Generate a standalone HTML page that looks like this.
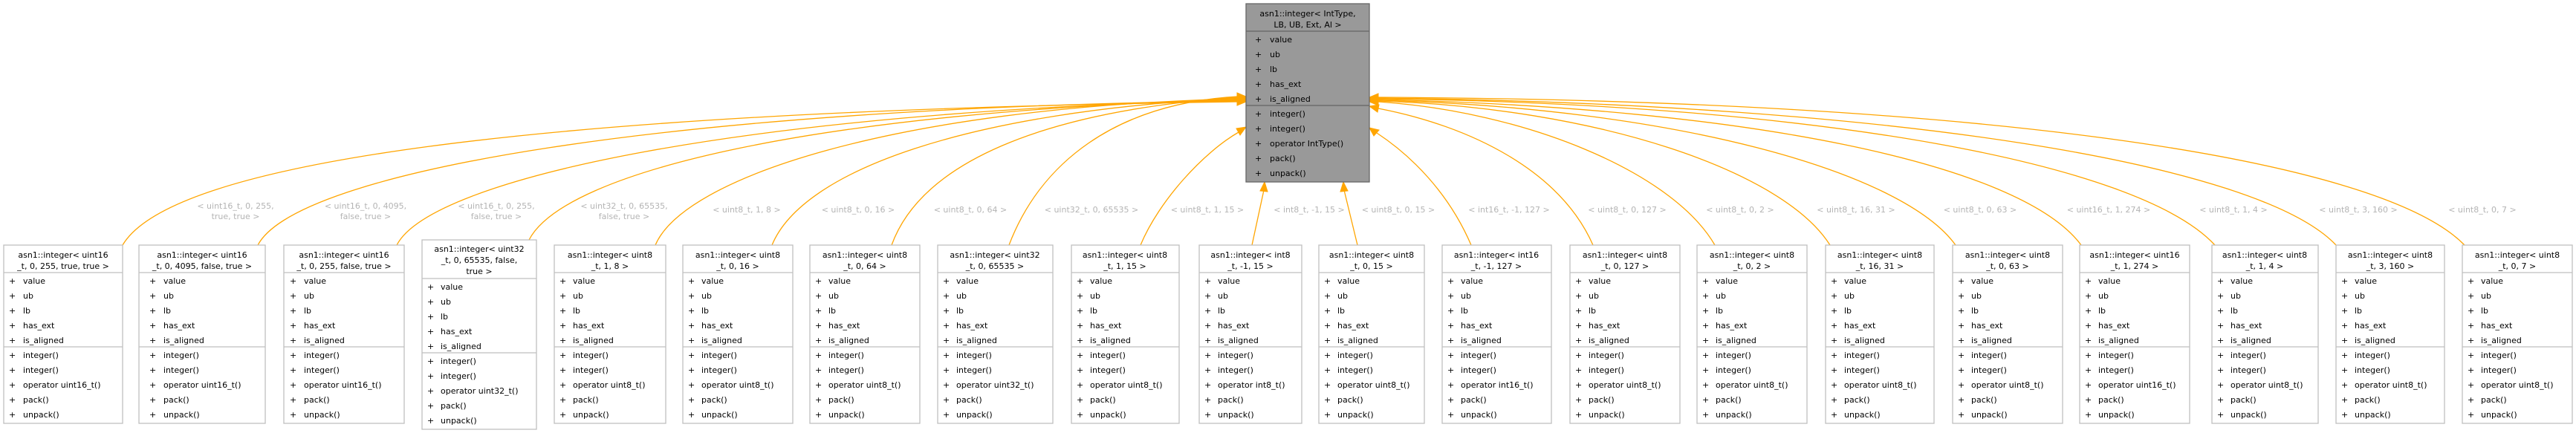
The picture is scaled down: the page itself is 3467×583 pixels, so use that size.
<!DOCTYPE html>
<html><head><meta charset="utf-8"><style>
html,body{margin:0;padding:0;background:#fff;}
svg{display:block;}
text{font-family:"DejaVu Sans","Liberation Sans",sans-serif;font-size:11px;fill:#000;}
.h{text-anchor:middle;}
.lb{fill:#b4b4b4;text-anchor:middle;}
.n rect{fill:#fff;stroke:#bfbfbf;stroke-width:1.3;}
.n line{stroke:#bfbfbf;stroke-width:1.3;}
.e{fill:none;stroke:#ffa500;stroke-width:1.3;}
.a{fill:#ffa500;stroke:#ffa500;}
</style></head><body>
<svg width="3467" height="583" viewBox="0 0 3467 583" xmlns="http://www.w3.org/2000/svg">
<!-- edges -->
<path class="e" d="M165,330 C230,220 700,150 1665,137"/>
<path class="e" d="M347,330 C400,230 900,145 1665,136"/>
<path class="e" d="M534,330 C580,240 1000,150 1665,135"/>
<path class="e" d="M712,323 C760,230 1100,150 1665,134"/>
<path class="e" d="M882,330 C920,240 1200,145 1665,133"/>
<path class="e" d="M1039,330 C1080,230 1300,150 1665,132"/>
<path class="e" d="M1200,330 C1240,220 1400,150 1665,131"/>
<path class="e" d="M1358,330 C1400,220 1500,140 1665,130"/>
<path class="e" d="M1535,330 C1560,270 1620,205 1667,178"/>
<path class="e" d="M1685,330 L1701,256"/>
<path class="e" d="M1827,330 L1809,256"/>
<path class="e" d="M1980,330 C1950,260 1900,210 1853,179"/>
<path class="e" d="M2144,330 C2100,230 1980,170 1855,146"/>
<path class="e" d="M2308,330 C2250,230 2050,150 1855,137"/>
<path class="e" d="M2463,330 C2400,230 2150,145 1855,136"/>
<path class="e" d="M2632,330 C2560,230 2250,145 1855,135"/>
<path class="e" d="M2801,330 C2720,220 2350,145 1855,134"/>
<path class="e" d="M2981,330 C2880,220 2450,140 1855,133"/>
<path class="e" d="M3144,330 C3040,220 2550,140 1855,132"/>
<path class="e" d="M3317,330 C3200,210 2650,135 1855,131"/>
<!-- arrowheads -->
<polygon class="a" points="1665,132 1677,137 1665,142"/>
<polygon class="a" points="1665,131 1677,136 1665,141"/>
<polygon class="a" points="1665,130 1677,135 1665,140"/>
<polygon class="a" points="1665,129 1677,134 1665,139"/>
<polygon class="a" points="1665,128 1677,133 1665,138"/>
<polygon class="a" points="1665,127 1677,132 1665,137"/>
<polygon class="a" points="1665,126 1677,131 1665,136"/>
<polygon class="a" points="1665,125 1677,130 1665,135"/>
<polygon class="a" points="1664,173 1677,171 1669,182"/>
<polygon class="a" points="1696,257 1702,245 1706,258"/>
<polygon class="a" points="1804,258 1808,245 1814,257"/>
<polygon class="a" points="1849,183 1843,172 1856,175"/>
<polygon class="a" points="1856,141 1843,143 1854,151"/>
<polygon class="a" points="1855,132 1843,137 1855,142"/>
<polygon class="a" points="1855,131 1843,136 1855,141"/>
<polygon class="a" points="1855,130 1843,135 1855,140"/>
<polygon class="a" points="1855,129 1843,134 1855,139"/>
<polygon class="a" points="1855,128 1843,133 1855,138"/>
<polygon class="a" points="1855,127 1843,132 1855,137"/>
<polygon class="a" points="1855,126 1843,131 1855,136"/>
<!-- edge labels -->
<text class="lb" x="317" y="281">&lt; uint16_t, 0, 255,</text><text class="lb" x="317" y="295">true, true &gt;</text>
<text class="lb" x="492" y="281">&lt; uint16_t, 0, 4095,</text><text class="lb" x="492" y="295">false, true &gt;</text>
<text class="lb" x="668" y="281">&lt; uint16_t, 0, 255,</text><text class="lb" x="668" y="295">false, true &gt;</text>
<text class="lb" x="840" y="281">&lt; uint32_t, 0, 65535,</text><text class="lb" x="840" y="295">false, true &gt;</text>
<text class="lb" x="1005" y="286">&lt; uint8_t, 1, 8 &gt;</text>
<text class="lb" x="1155" y="286">&lt; uint8_t, 0, 16 &gt;</text>
<text class="lb" x="1306" y="286">&lt; uint8_t, 0, 64 &gt;</text>
<text class="lb" x="1469" y="286">&lt; uint32_t, 0, 65535 &gt;</text>
<text class="lb" x="1625" y="286">&lt; uint8_t, 1, 15 &gt;</text>
<text class="lb" x="1762" y="286">&lt; int8_t, -1, 15 &gt;</text>
<text class="lb" x="1882" y="286">&lt; uint8_t, 0, 15 &gt;</text>
<text class="lb" x="2031" y="286">&lt; int16_t, -1, 127 &gt;</text>
<text class="lb" x="2190" y="286">&lt; uint8_t, 0, 127 &gt;</text>
<text class="lb" x="2342" y="286">&lt; uint8_t, 0, 2 &gt;</text>
<text class="lb" x="2498" y="286">&lt; uint8_t, 16, 31 &gt;</text>
<text class="lb" x="2665" y="286">&lt; uint8_t, 0, 63 &gt;</text>
<text class="lb" x="2838" y="286">&lt; uint16_t, 1, 274 &gt;</text>
<text class="lb" x="3006" y="286">&lt; uint8_t, 1, 4 &gt;</text>
<text class="lb" x="3174" y="286">&lt; uint8_t, 3, 160 &gt;</text>
<text class="lb" x="3341" y="286">&lt; uint8_t, 0, 7 &gt;</text>

<!-- parent -->
<g transform="translate(1677,5)">
<rect x="0" y="0" width="166" height="240" fill="#999999" stroke="#666666" stroke-width="1.3"/>
<line x1="0" y1="37" x2="166" y2="37" stroke="#666666" stroke-width="1.3"/>
<line x1="0" y1="137" x2="166" y2="137" stroke="#666666" stroke-width="1.3"/>
<text class="h" x="83" y="17">asn1::integer&lt; IntType,</text><text class="h" x="83" y="32">LB, UB, Ext, Al &gt;</text>
<text x="12" y="52">+</text><text x="32" y="52">value</text>
<text x="12" y="72">+</text><text x="32" y="72">ub</text>
<text x="12" y="92">+</text><text x="32" y="92">lb</text>
<text x="12" y="112">+</text><text x="32" y="112">has_ext</text>
<text x="12" y="132">+</text><text x="32" y="132">is_aligned</text>
<text x="12" y="152">+</text><text x="32" y="152">integer()</text>
<text x="12" y="172">+</text><text x="32" y="172">integer()</text>
<text x="12" y="192">+</text><text x="32" y="192">operator IntType()</text>
<text x="12" y="212">+</text><text x="32" y="212">pack()</text>
<text x="12" y="232">+</text><text x="32" y="232">unpack()</text>
</g>

<!-- children -->
<g class="n" transform="translate(5,330)"><rect width="160" height="240"/><line x1="0" y1="37" x2="160" y2="37"/><line x1="0" y1="137" x2="160" y2="137"/>
<text class="h" x="80" y="17">asn1::integer&lt; uint16</text><text class="h" x="80" y="32">_t, 0, 255, true, true &gt;</text>
<text x="7" y="52">+</text><text x="26" y="52">value</text><text x="7" y="72">+</text><text x="26" y="72">ub</text><text x="7" y="92">+</text><text x="26" y="92">lb</text><text x="7" y="112">+</text><text x="26" y="112">has_ext</text><text x="7" y="132">+</text><text x="26" y="132">is_aligned</text>
<text x="7" y="152">+</text><text x="26" y="152">integer()</text><text x="7" y="172">+</text><text x="26" y="172">integer()</text><text x="7" y="192">+</text><text x="26" y="192">operator uint16_t()</text><text x="7" y="212">+</text><text x="26" y="212">pack()</text><text x="7" y="232">+</text><text x="26" y="232">unpack()</text></g>

<g class="n" transform="translate(187,330)"><rect width="170" height="240"/><line x1="0" y1="37" x2="170" y2="37"/><line x1="0" y1="137" x2="170" y2="137"/>
<text class="h" x="85" y="17">asn1::integer&lt; uint16</text><text class="h" x="85" y="32">_t, 0, 4095, false, true &gt;</text>
<text x="14" y="52">+</text><text x="33" y="52">value</text><text x="14" y="72">+</text><text x="33" y="72">ub</text><text x="14" y="92">+</text><text x="33" y="92">lb</text><text x="14" y="112">+</text><text x="33" y="112">has_ext</text><text x="14" y="132">+</text><text x="33" y="132">is_aligned</text>
<text x="14" y="152">+</text><text x="33" y="152">integer()</text><text x="14" y="172">+</text><text x="33" y="172">integer()</text><text x="14" y="192">+</text><text x="33" y="192">operator uint16_t()</text><text x="14" y="212">+</text><text x="33" y="212">pack()</text><text x="14" y="232">+</text><text x="33" y="232">unpack()</text></g>

<g class="n" transform="translate(382,330)"><rect width="162" height="240"/><line x1="0" y1="37" x2="162" y2="37"/><line x1="0" y1="137" x2="162" y2="137"/>
<text class="h" x="81" y="17">asn1::integer&lt; uint16</text><text class="h" x="81" y="32">_t, 0, 255, false, true &gt;</text>
<text x="8" y="52">+</text><text x="27" y="52">value</text><text x="8" y="72">+</text><text x="27" y="72">ub</text><text x="8" y="92">+</text><text x="27" y="92">lb</text><text x="8" y="112">+</text><text x="27" y="112">has_ext</text><text x="8" y="132">+</text><text x="27" y="132">is_aligned</text>
<text x="8" y="152">+</text><text x="27" y="152">integer()</text><text x="8" y="172">+</text><text x="27" y="172">integer()</text><text x="8" y="192">+</text><text x="27" y="192">operator uint16_t()</text><text x="8" y="212">+</text><text x="27" y="212">pack()</text><text x="8" y="232">+</text><text x="27" y="232">unpack()</text></g>

<g class="n" transform="translate(568,323)"><rect width="154" height="255"/><line x1="0" y1="52" x2="154" y2="52"/><line x1="0" y1="152" x2="154" y2="152"/>
<text class="h" x="77" y="16">asn1::integer&lt; uint32</text><text class="h" x="77" y="31">_t, 0, 65535, false,</text><text class="h" x="77" y="46">true &gt;</text>
<text x="7" y="67">+</text><text x="25" y="67">value</text><text x="7" y="87">+</text><text x="25" y="87">ub</text><text x="7" y="107">+</text><text x="25" y="107">lb</text><text x="7" y="127">+</text><text x="25" y="127">has_ext</text><text x="7" y="147">+</text><text x="25" y="147">is_aligned</text>
<text x="7" y="167">+</text><text x="25" y="167">integer()</text><text x="7" y="187">+</text><text x="25" y="187">integer()</text><text x="7" y="207">+</text><text x="25" y="207">operator uint32_t()</text><text x="7" y="227">+</text><text x="25" y="227">pack()</text><text x="7" y="247">+</text><text x="25" y="247">unpack()</text></g>

<g class="n" transform="translate(746,330)"><rect width="150" height="240"/><line x1="0" y1="37" x2="150" y2="37"/><line x1="0" y1="137" x2="150" y2="137"/>
<text class="h" x="75" y="17">asn1::integer&lt; uint8</text><text class="h" x="75" y="32">_t, 1, 8 &gt;</text>
<text x="7" y="52">+</text><text x="25" y="52">value</text><text x="7" y="72">+</text><text x="25" y="72">ub</text><text x="7" y="92">+</text><text x="25" y="92">lb</text><text x="7" y="112">+</text><text x="25" y="112">has_ext</text><text x="7" y="132">+</text><text x="25" y="132">is_aligned</text>
<text x="7" y="152">+</text><text x="25" y="152">integer()</text><text x="7" y="172">+</text><text x="25" y="172">integer()</text><text x="7" y="192">+</text><text x="25" y="192">operator uint8_t()</text><text x="7" y="212">+</text><text x="25" y="212">pack()</text><text x="7" y="232">+</text><text x="25" y="232">unpack()</text></g>

<g class="n" transform="translate(919,330)"><rect width="148" height="240"/><line x1="0" y1="37" x2="148" y2="37"/><line x1="0" y1="137" x2="148" y2="137"/>
<text class="h" x="74" y="17">asn1::integer&lt; uint8</text><text class="h" x="74" y="32">_t, 0, 16 &gt;</text>
<text x="7" y="52">+</text><text x="25" y="52">value</text><text x="7" y="72">+</text><text x="25" y="72">ub</text><text x="7" y="92">+</text><text x="25" y="92">lb</text><text x="7" y="112">+</text><text x="25" y="112">has_ext</text><text x="7" y="132">+</text><text x="25" y="132">is_aligned</text>
<text x="7" y="152">+</text><text x="25" y="152">integer()</text><text x="7" y="172">+</text><text x="25" y="172">integer()</text><text x="7" y="192">+</text><text x="25" y="192">operator uint8_t()</text><text x="7" y="212">+</text><text x="25" y="212">pack()</text><text x="7" y="232">+</text><text x="25" y="232">unpack()</text></g>

<g class="n" transform="translate(1090,330)"><rect width="148" height="240"/><line x1="0" y1="37" x2="148" y2="37"/><line x1="0" y1="137" x2="148" y2="137"/>
<text class="h" x="74" y="17">asn1::integer&lt; uint8</text><text class="h" x="74" y="32">_t, 0, 64 &gt;</text>
<text x="7" y="52">+</text><text x="25" y="52">value</text><text x="7" y="72">+</text><text x="25" y="72">ub</text><text x="7" y="92">+</text><text x="25" y="92">lb</text><text x="7" y="112">+</text><text x="25" y="112">has_ext</text><text x="7" y="132">+</text><text x="25" y="132">is_aligned</text>
<text x="7" y="152">+</text><text x="25" y="152">integer()</text><text x="7" y="172">+</text><text x="25" y="172">integer()</text><text x="7" y="192">+</text><text x="25" y="192">operator uint8_t()</text><text x="7" y="212">+</text><text x="25" y="212">pack()</text><text x="7" y="232">+</text><text x="25" y="232">unpack()</text></g>

<g class="n" transform="translate(1262,330)"><rect width="155" height="240"/><line x1="0" y1="37" x2="155" y2="37"/><line x1="0" y1="137" x2="155" y2="137"/>
<text class="h" x="77" y="17">asn1::integer&lt; uint32</text><text class="h" x="77" y="32">_t, 0, 65535 &gt;</text>
<text x="7" y="52">+</text><text x="25" y="52">value</text><text x="7" y="72">+</text><text x="25" y="72">ub</text><text x="7" y="92">+</text><text x="25" y="92">lb</text><text x="7" y="112">+</text><text x="25" y="112">has_ext</text><text x="7" y="132">+</text><text x="25" y="132">is_aligned</text>
<text x="7" y="152">+</text><text x="25" y="152">integer()</text><text x="7" y="172">+</text><text x="25" y="172">integer()</text><text x="7" y="192">+</text><text x="25" y="192">operator uint32_t()</text><text x="7" y="212">+</text><text x="25" y="212">pack()</text><text x="7" y="232">+</text><text x="25" y="232">unpack()</text></g>

<g class="n" transform="translate(1442,330)"><rect width="145" height="240"/><line x1="0" y1="37" x2="145" y2="37"/><line x1="0" y1="137" x2="145" y2="137"/>
<text class="h" x="72" y="17">asn1::integer&lt; uint8</text><text class="h" x="72" y="32">_t, 1, 15 &gt;</text>
<text x="7" y="52">+</text><text x="25" y="52">value</text><text x="7" y="72">+</text><text x="25" y="72">ub</text><text x="7" y="92">+</text><text x="25" y="92">lb</text><text x="7" y="112">+</text><text x="25" y="112">has_ext</text><text x="7" y="132">+</text><text x="25" y="132">is_aligned</text>
<text x="7" y="152">+</text><text x="25" y="152">integer()</text><text x="7" y="172">+</text><text x="25" y="172">integer()</text><text x="7" y="192">+</text><text x="25" y="192">operator uint8_t()</text><text x="7" y="212">+</text><text x="25" y="212">pack()</text><text x="7" y="232">+</text><text x="25" y="232">unpack()</text></g>

<g class="n" transform="translate(1614,330)"><rect width="138" height="240"/><line x1="0" y1="37" x2="138" y2="37"/><line x1="0" y1="137" x2="138" y2="137"/>
<text class="h" x="69" y="17">asn1::integer&lt; int8</text><text class="h" x="69" y="32">_t, -1, 15 &gt;</text>
<text x="7" y="52">+</text><text x="25" y="52">value</text><text x="7" y="72">+</text><text x="25" y="72">ub</text><text x="7" y="92">+</text><text x="25" y="92">lb</text><text x="7" y="112">+</text><text x="25" y="112">has_ext</text><text x="7" y="132">+</text><text x="25" y="132">is_aligned</text>
<text x="7" y="152">+</text><text x="25" y="152">integer()</text><text x="7" y="172">+</text><text x="25" y="172">integer()</text><text x="7" y="192">+</text><text x="25" y="192">operator int8_t()</text><text x="7" y="212">+</text><text x="25" y="212">pack()</text><text x="7" y="232">+</text><text x="25" y="232">unpack()</text></g>

<g class="n" transform="translate(1775,330)"><rect width="142" height="240"/><line x1="0" y1="37" x2="142" y2="37"/><line x1="0" y1="137" x2="142" y2="137"/>
<text class="h" x="71" y="17">asn1::integer&lt; uint8</text><text class="h" x="71" y="32">_t, 0, 15 &gt;</text>
<text x="7" y="52">+</text><text x="25" y="52">value</text><text x="7" y="72">+</text><text x="25" y="72">ub</text><text x="7" y="92">+</text><text x="25" y="92">lb</text><text x="7" y="112">+</text><text x="25" y="112">has_ext</text><text x="7" y="132">+</text><text x="25" y="132">is_aligned</text>
<text x="7" y="152">+</text><text x="25" y="152">integer()</text><text x="7" y="172">+</text><text x="25" y="172">integer()</text><text x="7" y="192">+</text><text x="25" y="192">operator uint8_t()</text><text x="7" y="212">+</text><text x="25" y="212">pack()</text><text x="7" y="232">+</text><text x="25" y="232">unpack()</text></g>

<g class="n" transform="translate(1941,330)"><rect width="147" height="240"/><line x1="0" y1="37" x2="147" y2="37"/><line x1="0" y1="137" x2="147" y2="137"/>
<text class="h" x="73" y="17">asn1::integer&lt; int16</text><text class="h" x="73" y="32">_t, -1, 127 &gt;</text>
<text x="7" y="52">+</text><text x="25" y="52">value</text><text x="7" y="72">+</text><text x="25" y="72">ub</text><text x="7" y="92">+</text><text x="25" y="92">lb</text><text x="7" y="112">+</text><text x="25" y="112">has_ext</text><text x="7" y="132">+</text><text x="25" y="132">is_aligned</text>
<text x="7" y="152">+</text><text x="25" y="152">integer()</text><text x="7" y="172">+</text><text x="25" y="172">integer()</text><text x="7" y="192">+</text><text x="25" y="192">operator int16_t()</text><text x="7" y="212">+</text><text x="25" y="212">pack()</text><text x="7" y="232">+</text><text x="25" y="232">unpack()</text></g>

<g class="n" transform="translate(2113,330)"><rect width="148" height="240"/><line x1="0" y1="37" x2="148" y2="37"/><line x1="0" y1="137" x2="148" y2="137"/>
<text class="h" x="74" y="17">asn1::integer&lt; uint8</text><text class="h" x="74" y="32">_t, 0, 127 &gt;</text>
<text x="7" y="52">+</text><text x="25" y="52">value</text><text x="7" y="72">+</text><text x="25" y="72">ub</text><text x="7" y="92">+</text><text x="25" y="92">lb</text><text x="7" y="112">+</text><text x="25" y="112">has_ext</text><text x="7" y="132">+</text><text x="25" y="132">is_aligned</text>
<text x="7" y="152">+</text><text x="25" y="152">integer()</text><text x="7" y="172">+</text><text x="25" y="172">integer()</text><text x="7" y="192">+</text><text x="25" y="192">operator uint8_t()</text><text x="7" y="212">+</text><text x="25" y="212">pack()</text><text x="7" y="232">+</text><text x="25" y="232">unpack()</text></g>

<g class="n" transform="translate(2284,330)"><rect width="148" height="240"/><line x1="0" y1="37" x2="148" y2="37"/><line x1="0" y1="137" x2="148" y2="137"/>
<text class="h" x="74" y="17">asn1::integer&lt; uint8</text><text class="h" x="74" y="32">_t, 0, 2 &gt;</text>
<text x="7" y="52">+</text><text x="25" y="52">value</text><text x="7" y="72">+</text><text x="25" y="72">ub</text><text x="7" y="92">+</text><text x="25" y="92">lb</text><text x="7" y="112">+</text><text x="25" y="112">has_ext</text><text x="7" y="132">+</text><text x="25" y="132">is_aligned</text>
<text x="7" y="152">+</text><text x="25" y="152">integer()</text><text x="7" y="172">+</text><text x="25" y="172">integer()</text><text x="7" y="192">+</text><text x="25" y="192">operator uint8_t()</text><text x="7" y="212">+</text><text x="25" y="212">pack()</text><text x="7" y="232">+</text><text x="25" y="232">unpack()</text></g>

<g class="n" transform="translate(2457,330)"><rect width="146" height="240"/><line x1="0" y1="37" x2="146" y2="37"/><line x1="0" y1="137" x2="146" y2="137"/>
<text class="h" x="73" y="17">asn1::integer&lt; uint8</text><text class="h" x="73" y="32">_t, 16, 31 &gt;</text>
<text x="7" y="52">+</text><text x="25" y="52">value</text><text x="7" y="72">+</text><text x="25" y="72">ub</text><text x="7" y="92">+</text><text x="25" y="92">lb</text><text x="7" y="112">+</text><text x="25" y="112">has_ext</text><text x="7" y="132">+</text><text x="25" y="132">is_aligned</text>
<text x="7" y="152">+</text><text x="25" y="152">integer()</text><text x="7" y="172">+</text><text x="25" y="172">integer()</text><text x="7" y="192">+</text><text x="25" y="192">operator uint8_t()</text><text x="7" y="212">+</text><text x="25" y="212">pack()</text><text x="7" y="232">+</text><text x="25" y="232">unpack()</text></g>

<g class="n" transform="translate(2628,330)"><rect width="148" height="240"/><line x1="0" y1="37" x2="148" y2="37"/><line x1="0" y1="137" x2="148" y2="137"/>
<text class="h" x="74" y="17">asn1::integer&lt; uint8</text><text class="h" x="74" y="32">_t, 0, 63 &gt;</text>
<text x="7" y="52">+</text><text x="25" y="52">value</text><text x="7" y="72">+</text><text x="25" y="72">ub</text><text x="7" y="92">+</text><text x="25" y="92">lb</text><text x="7" y="112">+</text><text x="25" y="112">has_ext</text><text x="7" y="132">+</text><text x="25" y="132">is_aligned</text>
<text x="7" y="152">+</text><text x="25" y="152">integer()</text><text x="7" y="172">+</text><text x="25" y="172">integer()</text><text x="7" y="192">+</text><text x="25" y="192">operator uint8_t()</text><text x="7" y="212">+</text><text x="25" y="212">pack()</text><text x="7" y="232">+</text><text x="25" y="232">unpack()</text></g>

<g class="n" transform="translate(2799,330)"><rect width="148" height="240"/><line x1="0" y1="37" x2="148" y2="37"/><line x1="0" y1="137" x2="148" y2="137"/>
<text class="h" x="74" y="17">asn1::integer&lt; uint16</text><text class="h" x="74" y="32">_t, 1, 274 &gt;</text>
<text x="7" y="52">+</text><text x="25" y="52">value</text><text x="7" y="72">+</text><text x="25" y="72">ub</text><text x="7" y="92">+</text><text x="25" y="92">lb</text><text x="7" y="112">+</text><text x="25" y="112">has_ext</text><text x="7" y="132">+</text><text x="25" y="132">is_aligned</text>
<text x="7" y="152">+</text><text x="25" y="152">integer()</text><text x="7" y="172">+</text><text x="25" y="172">integer()</text><text x="7" y="192">+</text><text x="25" y="192">operator uint16_t()</text><text x="7" y="212">+</text><text x="25" y="212">pack()</text><text x="7" y="232">+</text><text x="25" y="232">unpack()</text></g>

<g class="n" transform="translate(2977,330)"><rect width="143" height="240"/><line x1="0" y1="37" x2="143" y2="37"/><line x1="0" y1="137" x2="143" y2="137"/>
<text class="h" x="71" y="17">asn1::integer&lt; uint8</text><text class="h" x="71" y="32">_t, 1, 4 &gt;</text>
<text x="7" y="52">+</text><text x="25" y="52">value</text><text x="7" y="72">+</text><text x="25" y="72">ub</text><text x="7" y="92">+</text><text x="25" y="92">lb</text><text x="7" y="112">+</text><text x="25" y="112">has_ext</text><text x="7" y="132">+</text><text x="25" y="132">is_aligned</text>
<text x="7" y="152">+</text><text x="25" y="152">integer()</text><text x="7" y="172">+</text><text x="25" y="172">integer()</text><text x="7" y="192">+</text><text x="25" y="192">operator uint8_t()</text><text x="7" y="212">+</text><text x="25" y="212">pack()</text><text x="7" y="232">+</text><text x="25" y="232">unpack()</text></g>

<g class="n" transform="translate(3144,330)"><rect width="146" height="240"/><line x1="0" y1="37" x2="146" y2="37"/><line x1="0" y1="137" x2="146" y2="137"/>
<text class="h" x="73" y="17">asn1::integer&lt; uint8</text><text class="h" x="73" y="32">_t, 3, 160 &gt;</text>
<text x="7" y="52">+</text><text x="25" y="52">value</text><text x="7" y="72">+</text><text x="25" y="72">ub</text><text x="7" y="92">+</text><text x="25" y="92">lb</text><text x="7" y="112">+</text><text x="25" y="112">has_ext</text><text x="7" y="132">+</text><text x="25" y="132">is_aligned</text>
<text x="7" y="152">+</text><text x="25" y="152">integer()</text><text x="7" y="172">+</text><text x="25" y="172">integer()</text><text x="7" y="192">+</text><text x="25" y="192">operator uint8_t()</text><text x="7" y="212">+</text><text x="25" y="212">pack()</text><text x="7" y="232">+</text><text x="25" y="232">unpack()</text></g>

<g class="n" transform="translate(3314,330)"><rect width="148" height="240"/><line x1="0" y1="37" x2="148" y2="37"/><line x1="0" y1="137" x2="148" y2="137"/>
<text class="h" x="74" y="17">asn1::integer&lt; uint8</text><text class="h" x="74" y="32">_t, 0, 7 &gt;</text>
<text x="7" y="52">+</text><text x="25" y="52">value</text><text x="7" y="72">+</text><text x="25" y="72">ub</text><text x="7" y="92">+</text><text x="25" y="92">lb</text><text x="7" y="112">+</text><text x="25" y="112">has_ext</text><text x="7" y="132">+</text><text x="25" y="132">is_aligned</text>
<text x="7" y="152">+</text><text x="25" y="152">integer()</text><text x="7" y="172">+</text><text x="25" y="172">integer()</text><text x="7" y="192">+</text><text x="25" y="192">operator uint8_t()</text><text x="7" y="212">+</text><text x="25" y="212">pack()</text><text x="7" y="232">+</text><text x="25" y="232">unpack()</text></g>
</svg>
</body></html>
